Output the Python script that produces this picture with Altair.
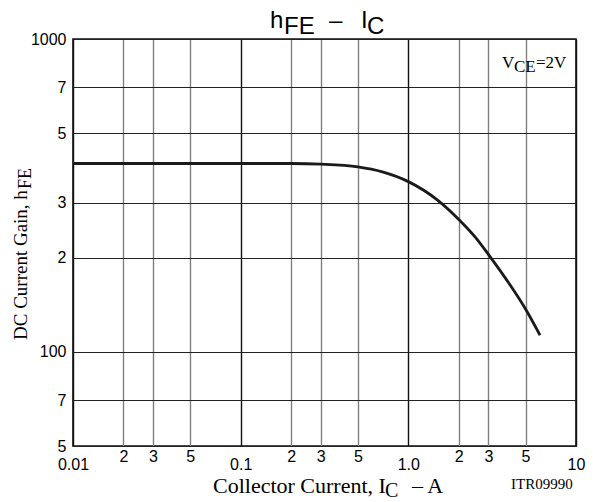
import altair as alt
import pandas as pd

# Collector current (A) and DC current gain
ic = [0.01, 0.05, 0.1, 0.2, 0.3, 0.5, 0.7, 1.0, 1.5, 2.0, 2.5, 3.0, 4.0, 5.0, 6.1]
hfe = [400, 400, 400, 400, 398, 390, 376, 350, 305, 265, 233, 205, 165, 137, 113]

x_ticks = [0.01, 0.02, 0.03, 0.05, 0.1, 0.2, 0.3, 0.5, 1, 2, 3, 5, 10]
y_ticks = [50, 70, 100, 200, 300, 500, 700, 1000]

SANS = "Liberation Sans"
SERIF = "Liberation Serif"

W, H = 503, 407

df = pd.DataFrame({"ic": ic, "hfe": hfe})

xscale = alt.Scale(type="log", domain=[0.01, 10], nice=False)
yscale = alt.Scale(type="log", domain=[50, 1000], nice=False)

decade_x = "indexof([0.01,0.1,1,10], datum.value) >= 0"

x_axis = alt.Axis(
    values=x_ticks,
    title=None,
    domain=False,
    ticks=False,
    labelFont=SANS,
    labelFontSize=16,
    labelColor="black",
    labelPadding={"condition": {"test": decade_x, "value": 10}, "value": 2},
    labelExpr="datum.value==0.01?'0.01':datum.value==0.1?'0.1':datum.value==1?'1.0':datum.value==10?'10':toString(round(datum.value/pow(10,floor(log(datum.value)/LN10+1e-9))))",
    labelFlush=False,
    labelOverlap=False,
    grid=True,
    gridColor={"condition": {"test": decade_x, "value": "#111"}, "value": "#808080"},
    gridWidth=1.4,
)

y_axis = alt.Axis(
    values=y_ticks,
    title=None,
    domain=False,
    ticks=False,
    labelFont=SANS,
    labelFontSize=16,
    labelColor="black",
    labelPadding=7,
    labelExpr="datum.value==1000?'1000':datum.value==100?'100':toString(datum.value<100?datum.value/10:datum.value/100)",
    labelFlush=False,
    labelOverlap=False,
    grid=True,
    gridColor="#222",
    gridWidth=1.2,
)

line = alt.Chart(df).mark_line(color="#1a1a1a", strokeWidth=2.8, interpolate="monotone", clip=True).encode(
    x=alt.X("ic:Q", scale=xscale, axis=x_axis),
    y=alt.Y("hfe:Q", scale=yscale, axis=y_axis),
)

one = pd.DataFrame({"a": [0]})


def txt(text, x, y, size, font, align="left", angle=0, baseline="alphabetic"):
    return alt.Chart(one).mark_text(
        text=text, font=font, fontSize=size, align=align, baseline=baseline,
        angle=angle, color="black"
    ).encode(x=alt.value(x), y=alt.value(y))


OX, OY = 73, 39  # plot origin in page pixels

annots = [
    # title hFE - IC
    txt("h", 270 - OX, 28 - OY, 24, SANS),
    txt("FE", 284 - OX, 34 - OY, 24, SANS),
    txt("–", 329 - OX, 28 - OY, 24, SANS),
    txt("I", 361 - OX, 28 - OY, 24, SANS),
    txt("C", 367 - OX, 34 - OY, 24, SANS),
    # VCE=2V
    txt("V", 502 - OX, 68 - OY, 17, SERIF),
    txt("CE", 514 - OX, 72 - OY, 17, SERIF),
    txt("=2V", 536 - OX, 68 - OY, 17, SERIF),
    # x title
    txt("Collector Current, I", 213 - OX, 493 - OY, 22, SERIF),
    txt("C", 385 - OX, 497 - OY, 20, SERIF),
    txt("–  A", 412 - OX, 493 - OY, 22, SERIF),
    txt("ITR09990", 511 - OX, 489 - OY, 15, SERIF),
    # y title (rotated)
    txt("DC Current Gain, h", 27 - OX, 340 - OY, 19, SERIF, angle=270),
    txt("FE", 31 - OX, 189 - OY, 18, SERIF, angle=270),
]

chart = alt.layer(line, *annots).properties(
    width=W,
    height=H,
    autosize=alt.AutoSizeParams(type="none"),
    padding={"left": OX, "top": OY, "right": 596 - OX - W, "bottom": 502 - OY - H},
    background="white",
).configure_view(stroke="#111", strokeWidth=1.6)

chart.save("out.html", embed_options={"renderer": "svg", "actions": False})
